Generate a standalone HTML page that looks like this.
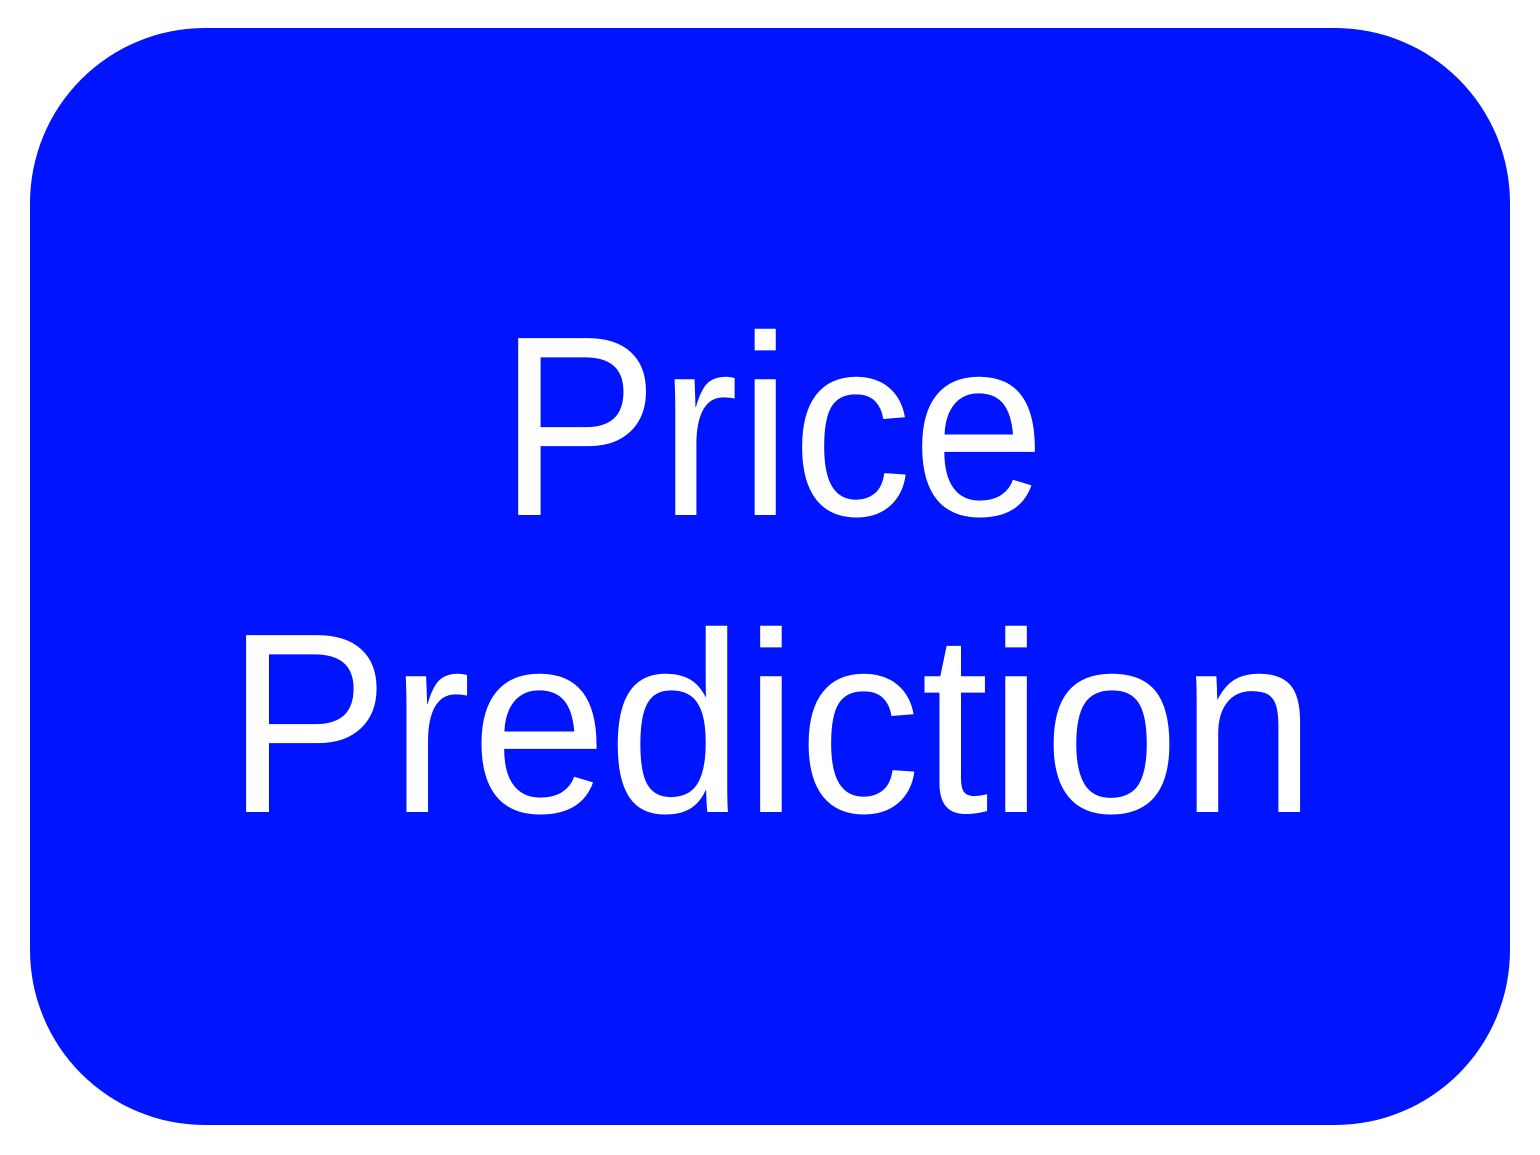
<!DOCTYPE html>
<html>
<head>
<meta charset="utf-8">
<style>
  html, body { margin:0; padding:0; background:#ffffff; }
  body { width:1540px; height:1155px; overflow:hidden; }
  svg { display:block; }
</style>
</head>
<body>
<svg width="1540" height="1155" viewBox="0 0 1540 1155">
  <rect x="30" y="28" width="1480" height="1097" rx="175" ry="175" fill="#0014ff"/>
  <text x="772" y="515" text-anchor="middle" font-family="Liberation Sans, sans-serif" font-size="257" fill="#ffffff" textLength="547" lengthAdjust="spacingAndGlyphs">Price</text>
  <text x="771" y="812" text-anchor="middle" font-family="Liberation Sans, sans-serif" font-size="257" fill="#ffffff" textLength="1090" lengthAdjust="spacingAndGlyphs">Prediction</text>
</svg>
</body>
</html>
